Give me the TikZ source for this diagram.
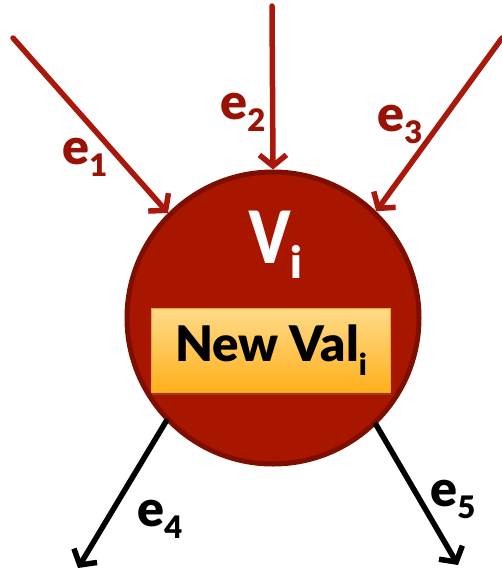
\documentclass[tikz,border=0pt]{standalone}
\usepackage{fontspec}
\setmainfont{Lato}[BoldFont={Lato Black}]
\usetikzlibrary{arrows.meta,shadows}
\definecolor{nodered}{HTML}{A81600}
\definecolor{noderim}{HTML}{7E0F00}
\definecolor{edgered}{HTML}{A8190B}
\definecolor{labred}{HTML}{9A1206}
\definecolor{boxtop}{HTML}{FFDB8A}
\definecolor{boxbot}{HTML}{FFB01C}
\newcommand{\lab}[1]{\fontsize{50}{52}\selectfont\bfseries e\raisebox{-12pt}{\fontsize{31}{32}\selectfont #1}}
\begin{document}
\begin{tikzpicture}[x=1pt,y=-1pt,
  conn/.style={line width=5.5pt, line cap=round, -{Straight Barb[length=11pt,width=27pt]}},
  inconn/.style={conn, draw=edgered},
  outconn/.style={conn, draw=black},
  elabel/.style={inner sep=0pt, text=labred},
  olabel/.style={inner sep=0pt, text=black}]
\useasboundingbox (0,0) rectangle (502,573);
\node[circle, minimum size=292pt, inner sep=0pt, fill=nodered, draw=noderim, line width=5pt] (v) at (273,318) {};
\node[inner sep=0pt, text=white] (vl) at (276,245) {\fontsize{72}{74}\selectfont\bfseries\scalebox{0.8}[1]{V}\raisebox{-15pt}{\fontsize{44}{44}\selectfont i}};
\node[rectangle, minimum width=239pt, minimum height=84pt, inner sep=0pt,
      top color=boxtop, bottom color=boxbot, draw=boxbot!80!brown, line width=1pt,
      drop shadow={shadow xshift=0pt, shadow yshift=-3pt, opacity=0.35}] (box) at (271,350)
      {\fontsize{49}{52}\selectfont\bfseries New Val\raisebox{-14pt}{\fontsize{30}{30}\selectfont i}};
\coordinate (s1) at (13,38);
\coordinate (s2) at (272,6);
\coordinate (s3) at (502,38);
\coordinate (t4) at (78,568);
\coordinate (t5) at (458,565);
\draw[inconn] (s1) -- (v.135);
\draw[inconn] (s2) -- (v.90);
\draw[inconn] (s3) -- (v.46);
\draw[outconn] (v.224) -- (t4);
\draw[outconn] (v.-46) -- (t5);
\node[elabel] (l1) at (85,157) {\lab{1}};
\node[elabel] (l2) at (243,112) {\lab{2}};
\node[elabel] (l3) at (400,124) {\lab{3}};
\node[olabel] (l4) at (160,519) {\lab{4}};
\node[olabel] (l5) at (453,499) {\lab{5}};
\end{tikzpicture}
\end{document}
